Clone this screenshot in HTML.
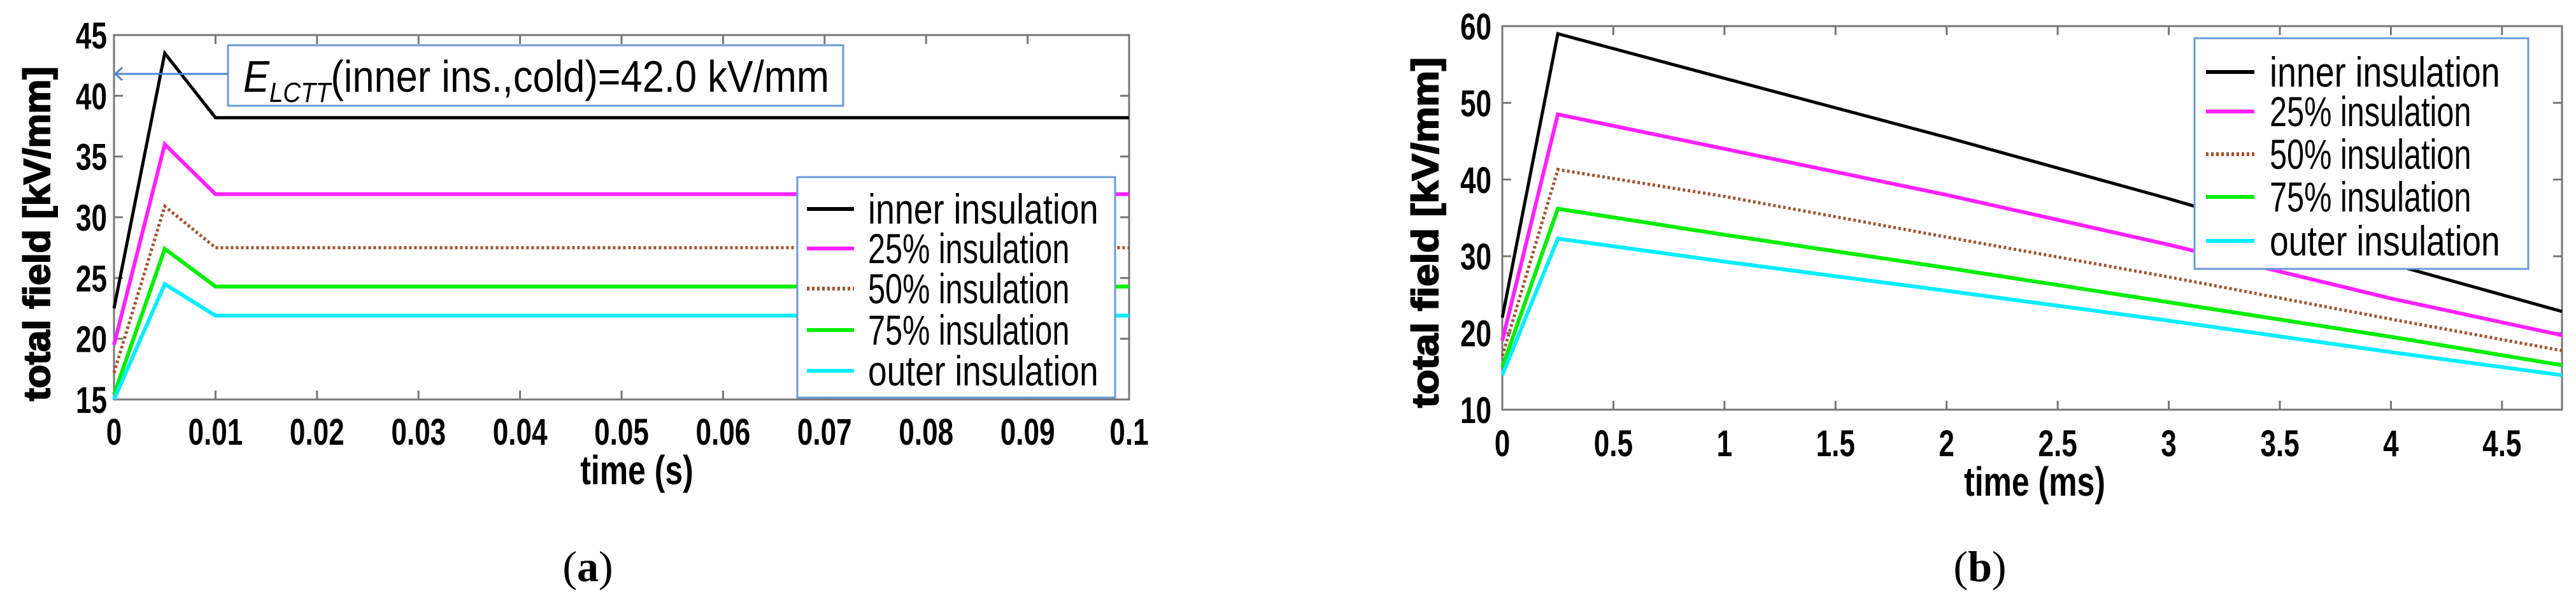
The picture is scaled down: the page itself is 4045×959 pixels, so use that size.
<!DOCTYPE html>
<html><head><meta charset="utf-8">
<style>
html,body{margin:0;padding:0;background:#fff;}
svg{display:block;font-family:"Liberation Sans",Arial,sans-serif;}
</style></head>
<body>
<svg id="chart" width="4045" height="959" viewBox="0 0 4045 959" xmlns="http://www.w3.org/2000/svg"></svg>
<script>
// ---- Chart (a) data ----
const aTimes = [0, 0.005, 0.01, 0.1];
const aInner = [22.5, 43.5, 38.2, 38.2];
const a25 = [19.5, 36.0, 31.9, 31.9];
const a50 = [17.2, 30.9, 27.5, 27.5];
const a75 = [15.4, 27.4, 24.3, 24.3];
const aOuter = [15.0, 24.5, 21.9, 21.9];
const aXTicks = [0,0.01,0.02,0.03,0.04,0.05,0.06,0.07,0.08,0.09,0.1];
const aXTickLabels = ["0","0.01","0.02","0.03","0.04","0.05","0.06","0.07","0.08","0.09","0.1"];
const aYTicks = [15,20,25,30,35,40,45];
// ---- Chart (b) data ----
const bTimes = [0, 0.25, 1, 2, 3, 4, 4.77];
const bInner = [22, 59, 53.2, 45.5, 37.5, 29, 22.8];
const b25 = [19, 48.5, 44, 38, 31.5, 24.5, 19.7];
const b50 = [17, 41.3, 37.8, 32.5, 27.3, 21.8, 17.7];
const b75 = [15.5, 36.2, 32.8, 28.5, 24, 19.5, 15.8];
const bOuter = [14.5, 32.3, 29.3, 25.5, 21.6, 17.5, 14.5];
const bXTicks = [0,0.5,1,1.5,2,2.5,3,3.5,4,4.5];
const bXTickLabels = ["0","0.5","1","1.5","2","2.5","3","3.5","4","4.5"];
const bYTicks = [10,20,30,40,50,60];
const seriesNames = ["inner insulation","25% insulation","50% insulation","75% insulation","outer insulation"];
const seriesColors = ["#000000","#ff22ff","#a0522d","#00ee00","#00eeff"];

const NS = "http://www.w3.org/2000/svg";
const svg = document.getElementById('chart');
function mk(tag, attrs, parent, text){
  const e = document.createElementNS(NS, tag);
  for (const k in attrs) e.setAttribute(k, attrs[k]);
  if (text !== undefined) e.textContent = text;
  (parent||svg).appendChild(e);
  return e;
}

function drawChart(cfg){
  const g = mk('g', {});
  
  
  const sx = v => cfg.x0 + (v - cfg.xmin)/(cfg.xmax - cfg.xmin)*(cfg.x1 - cfg.x0);
  const sy = v => cfg.y1 - (v - cfg.ymin)/(cfg.ymax - cfg.ymin)*(cfg.y1 - cfg.y0);
  const fr = mk('rect', {x:cfg.x0, y:cfg.y0, width:cfg.x1-cfg.x0, height:cfg.y1-cfg.y0, fill:'none', stroke:'#777', 'stroke-width':3}, g);
  
  
  cfg.xTicks.forEach((t,i)=>{
    const x = sx(t);
    mk('line', {x1:x, x2:x, y1:cfg.y1, y2:cfg.y1-14, stroke:'#777','stroke-width':3}, g);
    mk('line', {x1:x, x2:x, y1:cfg.y0, y2:cfg.y0+14, stroke:'#777','stroke-width':3}, g);
    const tl = mk('text', {transform:`translate(${x},${cfg.xLabY}) scale(0.76,1)`, 'text-anchor':'middle', 'font-size':58, 'font-weight':'bold', fill:'#000'}, g, cfg.xTickLabels[i]);
    
    
  });
  cfg.yTicks.forEach(t=>{
    const y = sy(t);
    mk('line', {x1:cfg.x0, x2:cfg.x0+14, y1:y, y2:y, stroke:'#777','stroke-width':3}, g);
    mk('line', {x1:cfg.x1, x2:cfg.x1-14, y1:y, y2:y, stroke:'#777','stroke-width':3}, g);
    const tl = mk('text', {transform:`translate(${cfg.yLabX},${y+21}) scale(0.76,1)`, 'text-anchor':'end', 'font-size':58, 'font-weight':'bold', fill:'#000'}, g, String(t));
    
    
  });
  cfg.series.forEach((vals, si)=>{
    const pts = cfg.times.map((t,i)=>`${sx(t).toFixed(1)},${sy(vals[i]).toFixed(1)}`).join(' ');
    const attrs = {points:pts, fill:'none', stroke:seriesColors[si], 'stroke-width': si===0?5:6, 'stroke-linejoin':'miter'};
    if (si===2){ attrs['stroke-dasharray']='4 4'; attrs['stroke-width']=5; }
    const pl = mk('polyline', attrs, g);
    
    
  });
  const xt = mk('text', {transform:`translate(${cfg.xTitleX},${cfg.xTitleY}) scale(0.78,1)`, 'text-anchor':'middle', 'font-size':64, 'font-weight':'bold', fill:'#000'}, g, cfg.xTitle);
  
  
  const yt = mk('text', {transform:`translate(${cfg.yTitleX},${cfg.yTitleY}) rotate(-90)`, 'text-anchor':'middle', 'font-size':58, 'font-weight':'bold', fill:'#000', stroke:'#000', 'stroke-width':2, textLength:cfg.yTitleLen, lengthAdjust:'spacingAndGlyphs'}, g, 'total field [kV/mm]');
  
  
  const lg = mk('g', {}, g);
  
  
  mk('rect', {x:cfg.lg.x, y:cfg.lg.y, width:cfg.lg.w, height:cfg.lg.h, fill:'#fff', stroke:'#6a9ad8', 'stroke-width':3}, lg);
  seriesNames.forEach((n,i)=>{
    const y = cfg.lg.rows[i];
    const ent = mk('g', {}, lg);
    
    
    const la = {x1:cfg.lg.lx0, x2:cfg.lg.lx1, y1:y, y2:y, stroke:seriesColors[i], 'stroke-width':6};
    if (i===2){ la['stroke-dasharray']='4 4'; }
    mk('line', la, ent);
    mk('text', {x:cfg.lg.tx, y:y+23, 'font-size':66, fill:'#000', textLength: n.length*22.6, lengthAdjust:'spacingAndGlyphs'}, ent, n);
  });
  const cap = mk('text', {x:cfg.capX, y:888+24, 'text-anchor':'middle', 'font-size':68, 'font-family':'"Liberation Serif",serif', fill:'#000'}, g);
  
  
  mk('tspan', {}, cap, '(');
  mk('tspan', {'font-weight':'bold'}, cap, cfg.cap);
  mk('tspan', {}, cap, ')');
  return {g, sx, sy};
}

const A = drawChart({name:'chart-a', x0:179, x1:1773, y0:55, y1:627, xmin:0, xmax:0.1, ymin:15, ymax:45,
  times:aTimes, series:[aInner,a25,a50,a75,aOuter], xTicks:aXTicks, xTickLabels:aXTickLabels, yTicks:aYTicks,
  xLabY:698, yLabX:168, xTitle:'time (s)', xTitleX:1000, xTitleY:760, yTitleX:78, yTitleY:367, yTitleLen:525,
  lg:{x:1252,y:278,w:499,h:346,rows:[328,390,453,518,582],lx0:1267,lx1:1341,tx:1363},
  capX:923, cap:'a'});

const ann = mk('g', {});


mk('rect', {x:358, y:71, width:966, height:95, fill:'#fff', stroke:'#6a9ad8', 'stroke-width':3}, ann);
mk('line', {x1:358, x2:182, y1:116, y2:116, stroke:'#4a86d0', 'stroke-width':3}, ann);
mk('polyline', {points:'192,106 181,116 192,126', fill:'none', stroke:'#4a86d0', 'stroke-width':3}, ann);
const at = mk('text', {x:382, y:144, 'font-size':70, fill:'#000', textLength:920, lengthAdjust:'spacingAndGlyphs'}, ann);
mk('tspan', {'font-style':'italic'}, at, 'E');
mk('tspan', {'font-style':'italic', 'font-size':44, dy:16}, at, 'LCTT');
mk('tspan', {dy:-16}, at, '(inner ins.,cold)=42.0 kV/mm');

const B = drawChart({name:'chart-b', x0:2359, x1:4023, y0:41, y1:643, xmin:0, xmax:4.77, ymin:10, ymax:60,
  times:bTimes, series:[bInner,b25,b50,b75,bOuter], xTicks:bXTicks, xTickLabels:bXTickLabels, yTicks:bYTicks,
  xLabY:716, yLabX:2342, xTitle:'time (ms)', xTitleX:3195, xTitleY:778, yTitleX:2258, yTitleY:365, yTitleLen:550,
  lg:{x:3446,y:60,w:524,h:362,rows:[113,175,242,309,378],lx0:3464,lx1:3540,tx:3564},
  capX:3109, cap:'b'});
</script>
</body></html>
